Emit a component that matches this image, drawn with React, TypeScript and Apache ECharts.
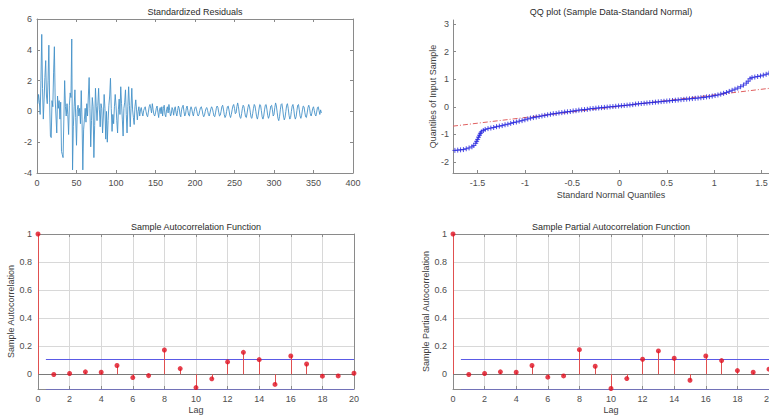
import React, { useEffect, useRef } from "react";
import * as echarts from "echarts";

// ---------- data ----------
const residuals: number[] = [
  0.5, 1.1, 0.6, -0.2, 2.0, 5.0, 1.5, -0.5, 0.8, 2.2,
  3.3, 1.0, 0.5, 2.0, 4.3, 0.6, -1.6, -1.7, 0.7, 0.3,
  2.5, 4.2, 0.8, -0.3, -1.4, 1.0, 0.2, 0.7, -0.5, 0.6,
  -2.6, -2.8, -3.0, -0.5, 2.0, 0.3, -0.3, 0.5, -0.2, -1.5,
  0.4, 1.2, 0.9, 4.7, -3.8, -1.0, 0.3, 1.4, -0.4, -2.2,
  0.1, 0.4, -0.3, 0.2, -0.8, 1.35, -0.5, -3.8, -1.2, -0.5,
  0.2, -0.7, 0.5, -0.3, 1.0, 2.2, 0.2, -2.3, -0.6, 0.9,
  0.3, -3.0, -0.9, 1.5, 0.3, -0.6, 0.4, 1.5, 0.1, -1.0,
  0.5, 0.2, -1.4, -0.3, 1.1, 0.2, -1.8, 0.0, -2.0, -0.6,
  0.4, 1.0, 2.15, 0.2, -1.3, -0.2, -0.8, 0.3, 1.1, 0.4,
  -0.6, -1.4, 0.1, 0.8, -0.2, 1.6, 0.5, -0.5, -1.6, 0.2,
  0.6, 1.4, -0.2, -1.4, 0.3, 1.6, 0.4, -1.0, 0.2, 1.5,
  0.1, -0.4, -0.85, 0.3, 0.75, 0.1, -0.55, 0.0, 0.3, -0.3,
  0.1, 0.25, -0.1, -0.3, 0.05, 0.2, 0.3, 0.0, -0.25, -0.35,
  -0.05, 0.3, 0.45, 0.2, -0.1, 0.5, 0.1, -0.2, -0.3, -0.1,
  0.2, 0.35, -0.05, -0.4, 0.1, 0.25, -0.15, 0.3, -0.3, 0.2,
  0.4, -0.2, -0.35, 0.1, 0.3, -0.1, 0.45, 0.05, -0.3, -0.15,
  0.25, 0.1, -0.25, 0.15, 0.3, -0.1, -0.3, 0.05, 0.35, 0.2,
  -0.2, -0.35, 0.1, 0.3, 0.4, 0.0, -0.3, -0.2, 0.2, 0.35,
  0.05, -0.25, -0.3, 0.1, 0.3, 0.15, -0.15, -0.3, 0.0, 0.25,
  0.3, 0.1, -0.15, -0.3, -0.2, 0.05, 0.25, 0.3, 0.1, -0.2,
  -0.35, -0.25, 0.0, 0.2, 0.25, 0.05, -0.2, -0.3, -0.1, 0.15,
  0.3, 0.2, -0.05, -0.3, -0.35, -0.1, 0.2, 0.35, 0.25, -0.05,
  -0.3, -0.25, 0.0, 0.3, 0.4, 0.15, -0.2, -0.4, -0.3, 0.0,
  0.3, 0.35, 0.1, -0.25, -0.4, -0.2, 0.1, 0.35, 0.45, 0.2,
  -0.15, -0.1, 0.3, 0.55, 0.3, -0.1, -0.4, -0.45, -0.15, 0.2,
  0.4, 0.3, -0.05, -0.35, -0.4, -0.1, 0.25, 0.45, 0.3, -0.05,
  -0.4, -0.45, -0.15, 0.2, 0.45, 0.35, 0.0, -0.35, -0.5, -0.25,
  0.15, 0.45, 0.4, 0.05, -0.35, -0.5, -0.3, 0.1, 0.4, 0.45,
  0.15, -0.25, -0.45, -0.3, 0.05, 0.35, 0.4, 0.1, -0.3, -0.2,
  0.25, 0.55, 0.35, -0.05, -0.45, -0.6, -0.35, 0.1, 0.45, 0.5,
  0.15, -0.3, -0.55, -0.4, 0.0, 0.4, 0.5, 0.2, -0.25, -0.5,
  -0.4, 0.0, 0.35, 0.45, 0.15, -0.3, -0.5, -0.35, 0.05, 0.4,
  0.45, 0.1, -0.3, -0.45, -0.25, 0.1, 0.35, 0.3, -0.05, -0.35,
  -0.4, -0.1, 0.25, 0.4, 0.2, -0.15, -0.3, -0.1, 0.2, 0.3,
  0.05, -0.2, -0.3, -0.05, 0.25, 0.3, 0.05, -0.2, 0.1, -0.1,
];

const qqX: number[] = [
  -1.74, -1.71, -1.68, -1.65, -1.62, -1.59, -1.56, -1.54, -1.52, -1.51,
  -1.5, -1.49, -1.48, -1.47, -1.46, -1.44, -1.42, -1.39, -1.36, -1.33,
  -1.3, -1.27, -1.24, -1.21, -1.18, -1.15, -1.12, -1.09, -1.06, -1.03,
  -1.0, -0.97, -0.94, -0.91, -0.88, -0.85, -0.82, -0.79, -0.76, -0.73,
  -0.7, -0.67, -0.64, -0.61, -0.58, -0.55, -0.52, -0.49, -0.46, -0.43,
  -0.4, -0.37, -0.34, -0.31, -0.28, -0.25, -0.22, -0.19, -0.16, -0.13,
  -0.1, -0.07, -0.04, -0.01, 0.02, 0.05, 0.08, 0.11, 0.14, 0.17,
  0.2, 0.23, 0.26, 0.29, 0.32, 0.35, 0.38, 0.41, 0.44, 0.47,
  0.5, 0.53, 0.56, 0.59, 0.62, 0.65, 0.68, 0.71, 0.74, 0.77,
  0.8, 0.83, 0.86, 0.89, 0.92, 0.95, 0.98, 1.01, 1.04, 1.07,
  1.1, 1.13, 1.16, 1.19, 1.22, 1.25, 1.28, 1.31, 1.34, 1.36,
  1.38, 1.4, 1.43, 1.46, 1.49, 1.52, 1.55, 1.58,
];
const qqY: number[] = [
  -1.58, -1.57, -1.56, -1.55, -1.52, -1.49, -1.45, -1.4, -1.32, -1.25,
  -1.18, -1.1, -1.03, -0.96, -0.91, -0.86, -0.82, -0.79, -0.77, -0.75,
  -0.72, -0.7, -0.68, -0.65, -0.63, -0.6, -0.57, -0.55, -0.52, -0.5,
  -0.47, -0.44, -0.41, -0.39, -0.37, -0.35, -0.33, -0.31, -0.29, -0.27,
  -0.25, -0.24, -0.22, -0.21, -0.19, -0.18, -0.17, -0.15, -0.14, -0.12,
  -0.11, -0.1, -0.09, -0.07, -0.06, -0.05, -0.04, -0.03, -0.02, -0.01,
  0.0, 0.01, 0.02, 0.03, 0.04, 0.05, 0.06, 0.07, 0.08, 0.1,
  0.11, 0.12, 0.13, 0.14, 0.15, 0.16, 0.17, 0.18, 0.19, 0.2,
  0.21, 0.22, 0.23, 0.24, 0.25, 0.26, 0.27, 0.28, 0.29, 0.3,
  0.31, 0.32, 0.33, 0.34, 0.36, 0.37, 0.39, 0.41, 0.43, 0.46,
  0.49, 0.52, 0.56, 0.6, 0.64, 0.68, 0.73, 0.79, 0.86, 0.93,
  1.02, 1.06, 1.08, 1.1, 1.12, 1.15, 1.18, 1.22,
];
const qqRefX: number[] = [-1.76, 1.58];
const qqRefY: number[] = [-0.7, 0.67];

const lags: number[] = [0, 1, 2, 3, 4, 5, 6, 7, 8, 9, 10, 11, 12, 13, 14, 15, 16, 17, 18, 19, 20];
const acfValues: number[] = [
  1, -0.002, 0.005, 0.017, 0.014, 0.062, -0.024, -0.01, 0.173, 0.04, -0.095,
  -0.033, 0.088, 0.156, 0.104, -0.073, 0.13, 0.073, -0.014, -0.012, 0.007,
];
const pacfValues: number[] = [
  1, -0.002, 0.005, 0.017, 0.014, 0.062, -0.021, -0.012, 0.175, 0.057, -0.102,
  -0.031, 0.107, 0.166, 0.114, -0.043, 0.13, 0.097, 0.026, 0.014, 0.036,
];
const confBound = 0.1054;

const qqXTicks: number[] = [-1.5, -1, -0.5, 0, 0.5, 1, 1.5];
const qqYTicks: number[] = [-2, -1, 0, 1, 2, 3];
const corrYTicks: number[] = [0, 0.2, 0.4, 0.6, 0.8, 1];
const corrGridY: number[] = [0.2, 0.4, 0.6, 0.8];

const titles: string[] = [
  "Standardized Residuals",
  "QQ plot (Sample Data-Standard Normal)",
  "Sample Autocorrelation Function",
  "Sample Partial Autocorrelation Function",
];

// ---------- style ----------
const FONT = "Liberation Sans, Arial, Helvetica, sans-serif";
const AXIS_COLOR = "#8a8a8a";
const LABEL_COLOR = "#4d4d4d";
const FS = 9;
const GRID_COLOR = "#d8d8d8";
const ZERO_COLOR = "#7a7a7a";
const BOUND_COLOR = "#5a5ae6";
const STEM_COLOR = "#e05050";

const labelStyle = (extra: any = {}) => ({
  color: LABEL_COLOR,
  fontFamily: FONT,
  fontSize: FS,
  ...extra,
});

function mainX(gridIndex: number, opts: any) {
  return {
    type: "value",
    gridIndex,
    position: "bottom",
    axisLine: { show: true, onZero: false, lineStyle: { color: AXIS_COLOR, width: 1 } },
    axisTick: { show: true, inside: true, length: 3, lineStyle: { color: AXIS_COLOR } },
    splitLine: { show: false },
    nameLocation: "middle",
    nameTextStyle: labelStyle({ color: "#404040" }),
    ...opts,
    axisLabel: labelStyle({ margin: 5, ...(opts.axisLabel || {}) }),
  };
}
function mainY(gridIndex: number, opts: any) {
  return {
    type: "value",
    gridIndex,
    position: "left",
    axisLine: { show: true, onZero: false, lineStyle: { color: AXIS_COLOR, width: 1 } },
    axisTick: { show: true, inside: true, length: 3, lineStyle: { color: AXIS_COLOR } },
    splitLine: { show: false },
    nameLocation: "middle",
    nameRotate: 90,
    nameTextStyle: labelStyle({ color: "#404040" }),
    ...opts,
    axisLabel: labelStyle({ margin: 5, ...(opts.axisLabel || {}) }),
  };
}
function boxX(gridIndex: number, opts: any) {
  return {
    type: "value",
    gridIndex,
    position: "top",
    axisLine: { show: true, onZero: false, lineStyle: { color: AXIS_COLOR, width: 1 } },
    axisTick: { show: true, inside: true, length: 3, lineStyle: { color: AXIS_COLOR } },
    axisLabel: { show: false },
    splitLine: { show: false },
    ...opts,
  };
}
function boxY(gridIndex: number, opts: any) {
  return {
    type: "value",
    gridIndex,
    position: "right",
    axisLine: { show: true, onZero: false, lineStyle: { color: AXIS_COLOR, width: 1 } },
    axisTick: { show: true, inside: true, length: 3, lineStyle: { color: AXIS_COLOR } },
    axisLabel: { show: false },
    splitLine: { show: false },
    ...opts,
  };
}

function linesSeries(xIdx: number, yIdx: number, segs: number[][][], color: string, z: number) {
  return {
    type: "lines",
    coordinateSystem: "cartesian2d",
    xAxisIndex: xIdx,
    yAxisIndex: yIdx,
    polyline: false,
    silent: true,
    z,
    data: segs.map((c) => ({ coords: c })),
    lineStyle: { color, width: 1, opacity: 1, curveness: 0 },
    effect: { show: false },
  };
}

function corrSeries(values: number[], xIdx: number, yIdx: number) {
  const pts = lags.map((l, i) => [l, values[i]]);
  return [
    linesSeries(xIdx, yIdx, corrGridY.map((v) => [[0, v], [20, v]]), GRID_COLOR, 1),
    linesSeries(xIdx, yIdx, [[[0, 0], [20, 0]]], ZERO_COLOR, 2),
    linesSeries(
      xIdx,
      yIdx,
      [
        [[0.5, confBound], [20, confBound]],
        [[0.5, -confBound], [20, -confBound]],
      ],
      BOUND_COLOR,
      2
    ),
    linesSeries(xIdx, yIdx, pts.map((p) => [[p[0], 0], [p[0], p[1]]]), STEM_COLOR, 3),
    {
      type: "scatter",
      xAxisIndex: xIdx,
      yAxisIndex: yIdx,
      data: pts,
      symbol: "circle",
      symbolSize: 5,
      z: 4,
      itemStyle: { color: "#e01020" },
    },
  ];
}

export default function App() {
  const ref = useRef<HTMLDivElement>(null);

  useEffect(() => {
    if (!ref.current) return;
    const chart = echarts.init(ref.current, undefined, { renderer: "svg" });

    const W = 316;
    const grids = [
      { left: 37, top: 19, width: W, height: 154 },
      { left: 453, top: 20, width: W, height: 153 },
      { left: 38, top: 234, width: W, height: 155 },
      { left: 453, top: 234, width: W, height: 155 },
    ].map((g) => ({ ...g, containLabel: false, outerBoundsMode: "none", show: false }));

    const xAxis = [
      mainX(0, { min: 0, max: 400, interval: 50 }),
      boxX(0, { min: 0, max: 400, interval: 50 }),
      mainX(1, {
        min: -1.76,
        max: 1.58,
        name: "Standard Normal Quantiles",
        nameGap: 17,
        axisTick: { show: true, inside: true, length: 3, customValues: qqXTicks, lineStyle: { color: AXIS_COLOR } },
        axisLabel: { customValues: qqXTicks },
      }),
      mainX(2, {
        min: 0,
        max: 20,
        interval: 2,
        name: "Lag",
        nameGap: 16,
        splitLine: { show: true, lineStyle: { color: GRID_COLOR, width: 1 } },
      }),
      boxX(2, { min: 0, max: 20, interval: 2 }),
      mainX(3, {
        min: 0,
        max: 20,
        interval: 2,
        name: "Lag",
        nameGap: 16,
        splitLine: { show: true, lineStyle: { color: GRID_COLOR, width: 1 } },
      }),
      boxX(3, { min: 0, max: 20, interval: 2 }),
    ];

    const corrY = (g: number, name: string) =>
      mainY(g, {
        min: -confBound,
        max: 1,
        name,
        nameGap: 16,
        axisTick: { show: true, inside: true, length: 3, customValues: corrYTicks, lineStyle: { color: AXIS_COLOR } },
        axisLabel: { customValues: corrYTicks, margin: 6 },
      });
    const corrBoxY = (g: number) =>
      boxY(g, {
        min: -confBound,
        max: 1,
        axisTick: { show: true, inside: true, length: 3, customValues: corrYTicks, lineStyle: { color: AXIS_COLOR } },
      });

    const yAxis = [
      mainY(0, { min: -4, max: 6, interval: 2 }),
      boxY(0, { min: -4, max: 6, interval: 2 }),
      mainY(1, {
        min: -2.4,
        max: 3.15,
        name: "Quantiles of Input Sample",
        nameGap: 14,
        axisTick: { show: true, inside: true, length: 3, customValues: qqYTicks, lineStyle: { color: AXIS_COLOR } },
        axisLabel: { customValues: qqYTicks, margin: 4 },
      }),
      corrY(2, "Sample Autocorrelation"),
      corrBoxY(2),
      corrY(3, "Sample Partial Autocorrelation"),
      corrBoxY(3),
    ];

    const titlePos = [
      [195, 12],
      [611, 12],
      [196, 227],
      [611, 227],
    ];

    const option: any = {
      animation: false,
      backgroundColor: "#ffffff",
      textStyle: { fontFamily: FONT },
      grid: grids,
      xAxis,
      yAxis,
      graphic: titles.map((t, i) => ({
        type: "text",
        x: titlePos[i][0],
        y: titlePos[i][1],
        silent: true,
        style: {
          text: t,
          align: "center",
          verticalAlign: "middle",
          fill: "#2b2b2b",
          fontFamily: FONT,
          fontSize: FS,
        },
      })),
      series: [
        {
          type: "line",
          xAxisIndex: 0,
          yAxisIndex: 0,
          data: residuals.map((v, i) => [i + 1, v]),
          showSymbol: false,
          color: "#4592c8",
          lineStyle: { color: "#4592c8", width: 0.9 },
        },
        {
          type: "line",
          xAxisIndex: 2,
          yAxisIndex: 2,
          data: qqRefX.map((x, i) => [x, qqRefY[i]]),
          showSymbol: false,
          z: 1,
          color: "#e06060",
          lineStyle: { color: "#e06060", width: 1, type: [5, 2, 1, 2] },
        },
        {
          type: "scatter",
          xAxisIndex: 2,
          yAxisIndex: 2,
          data: qqX.map((x, i) => [x, qqY[i]]),
          symbol: "path://M5,0 L5,10 M0,5 L10,5",
          symbolSize: 5,
          z: 2,
          itemStyle: { color: "none", borderColor: "#2222dd", borderWidth: 1 },
        },
        ...corrSeries(acfValues, 3, 3),
        ...corrSeries(pacfValues, 5, 5),
      ],
    };

    chart.setOption(option);
    return () => chart.dispose();
  }, []);

  return (
    <div
      style={{
        position: "fixed",
        left: 0,
        top: 0,
        width: 769,
        height: 415,
        overflow: "hidden",
        background: "#ffffff",
      }}
    >
      <div ref={ref} style={{ width: 800, height: 415 }} />
    </div>
  );
}
